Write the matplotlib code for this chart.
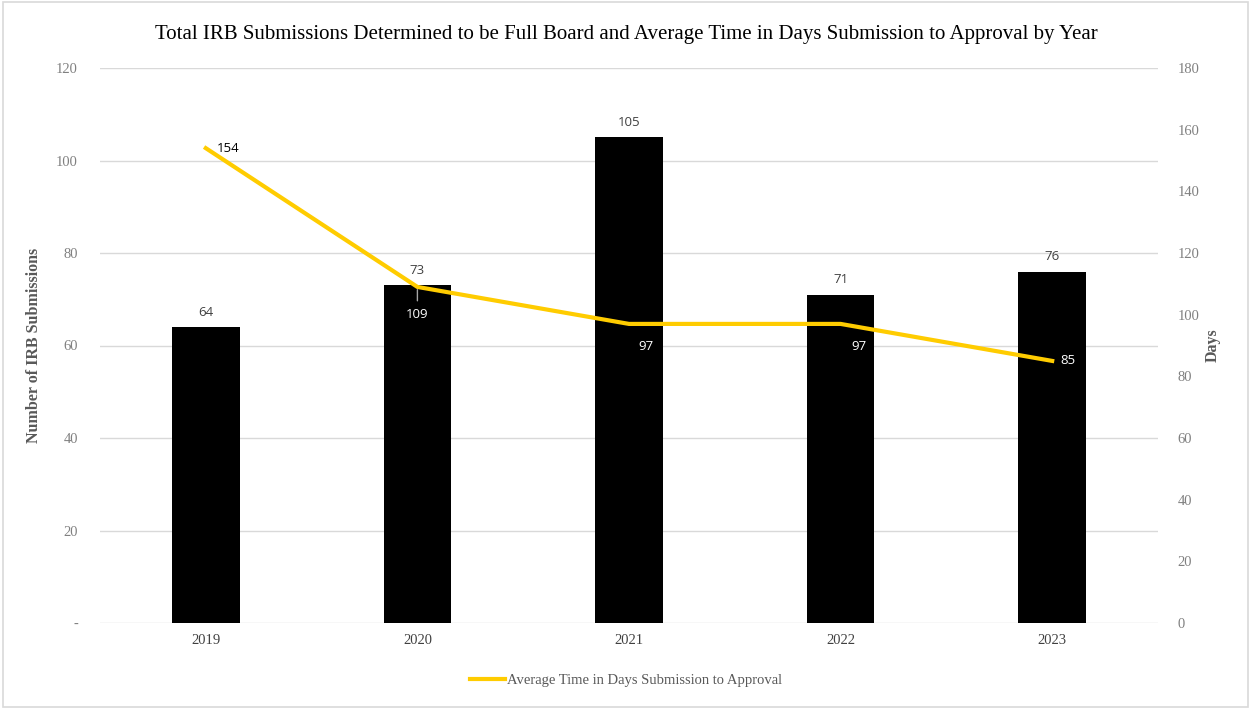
import matplotlib
matplotlib.use("Agg")
import matplotlib.pyplot as plt
from matplotlib.patches import Rectangle

years = ["2019", "2020", "2021", "2022", "2023"]
submissions = [64, 73, 105, 71, 76]
avg_days = [154, 109, 97, 97, 85]
left_ticks = [0, 20, 40, 60, 80, 100, 120]
left_tick_labels = ["-", "20", "40", "60", "80", "100", "120"]
right_ticks = [0, 20, 40, 60, 80, 100, 120, 140, 160, 180]

serif = ["Liberation Serif", "DejaVu Serif"]
sans = ["Open Sans", "DejaVu Sans"]

fig = plt.figure(figsize=(12.52, 7.09), dpi=100)
fig.patches.append(Rectangle((0.002, 0.003), 0.995, 0.994, transform=fig.transFigure,
                             fill=False, edgecolor="#d9d9d9", linewidth=1.2))
ax = fig.add_axes([100/1252, 1-623/709, 1058/1252, 555/709])
x = list(range(len(years)))
ax.bar(x, submissions, width=0.32, color="black", zorder=2)
ax.set_xlim(-0.5, 4.5)
ax.set_ylim(0, 120)
ax.set_yticks(left_ticks)
ax.set_yticklabels(left_tick_labels)
ax.set_xticks(x)
ax.set_xticklabels(years)
ax.grid(axis="y", color="#d9d9d9", linewidth=1, zorder=0)
for s in ax.spines.values():
    s.set_visible(False)
ax.tick_params(length=0)
ax.tick_params(axis="y", pad=16, labelcolor="#808080", labelsize=10.5)
ax.tick_params(axis="x", pad=8, labelcolor="#404040", labelsize=10.5)
for lab in ax.get_xticklabels() + ax.get_yticklabels():
    lab.set_family(serif)
ax.set_ylabel("Number of IRB Submissions", family=serif, fontweight="bold",
              color="#595959", fontsize=11.5, labelpad=10)

for xi, v in zip(x, submissions):
    ax.annotate(str(v), (xi, v), xytext=(0, 6), textcoords="offset points",
                ha="center", va="bottom", family=sans, fontsize=9.5, color="#404040")

ax2 = ax.twinx()
ax2.set_ylim(0, 180)
ax2.set_yticks(right_ticks)
for s in ax2.spines.values():
    s.set_visible(False)
ax2.tick_params(length=0, pad=14, labelcolor="#808080", labelsize=10.5)
for lab in ax2.get_yticklabels():
    lab.set_family(serif)
ax2.set_ylabel("Days", family=serif, fontweight="bold", color="#595959",
               fontsize=11.5, labelpad=4)
line, = ax2.plot(x, avg_days, color="#FFCC00", linewidth=3,
                 label="Average Time in Days Submission to Approval", zorder=3)

# line data labels
offsets = [(8, 0, "left", "center", "black"),
           (0, -20, "center", "center", "white"),
           (7, -16, "left", "center", "white"),
           (8, -16, "left", "center", "white"),
           (6, 0, "left", "center", "white")]
for xi, v, (dx, dy, ha, va, c) in zip(x, avg_days, offsets):
    ax2.annotate(str(v), (xi, v), xytext=(dx, dy), textcoords="offset points",
                 ha=ha, va=va, family=sans, fontsize=9.5, color=c, zorder=4)
# leader line for 2020 label
ax2.annotate("", (1, avg_days[1]), xytext=(0, -12), textcoords="offset points",
             arrowprops=dict(arrowstyle="-", color="#a6a6a6", lw=1), zorder=4)

fig.suptitle("Total IRB Submissions Determined to be Full Board and Average Time in Days Submission to Approval by Year",
             family=serif, fontsize=15, color="black", y=0.965)
leg = fig.legend(handles=[line], loc="center", bbox_to_anchor=(0.5, 1-680/709),
                 frameon=False, prop={"family": serif, "size": 10.5},
                 handlelength=2.4, handletextpad=0.1)
for t in leg.get_texts():
    t.set_color("#595959")

fig.savefig("out.png", dpi=100)
